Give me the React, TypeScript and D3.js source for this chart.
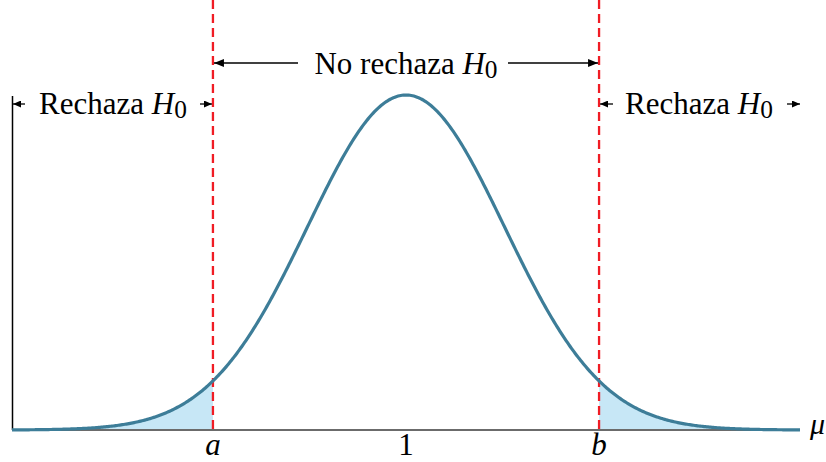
import React from "react";
import * as d3 from "d3";

// Distribution parameters and the two-sided critical value
const mean = [1];
const sd = [1];
const zCritical = [1.96];
const xDomain = [-3, 5];

// Axis tick labels below the baseline
const tickLabels = [
  { key: "a", text: "a", italic: true },
  { key: "mu", text: "1", italic: false },
  { key: "b", text: "b", italic: true },
];

const W = 826;
const H = 462;
const FONT = "'Liberation Serif', 'Times New Roman', serif";

const pdf = (x: number) =>
  Math.exp(-0.5 * ((x - mean[0]) / sd[0]) ** 2) / (sd[0] * Math.sqrt(2 * Math.PI));

export default function App() {
  const x = d3.scaleLinear().domain(xDomain).range([12, 800]);
  const y = d3.scaleLinear().domain([0, pdf(mean[0])]).range([430, 95]);

  const a = mean[0] - zCritical[0] * sd[0];
  const b = mean[0] + zCritical[0] * sd[0];

  const samples = (lo: number, hi: number, n = 300) =>
    d3.range(n + 1).map((i) => lo + ((hi - lo) * i) / n);

  const line = d3
    .line<number>()
    .x((d) => x(d))
    .y((d) => y(pdf(d)))
    .curve(d3.curveLinear);

  const area = d3
    .area<number>()
    .x((d) => x(d))
    .y0(y(0))
    .y1((d) => y(pdf(d)));

  const xa = x(a);
  const xb = x(b);
  const xm = x(mean[0]);
  const base = y(0);

  const H0 = (size: number) => (
    <>
      <tspan fontStyle="italic">H</tspan>
      <tspan fontSize={size * 0.82} dy={4}>
        0
      </tspan>
    </>
  );

  const fs = 31;

  return (
    <svg
      width={W}
      height={H}
      style={{ position: "absolute", left: 0, top: 0, background: "#fff" }}
      fontFamily={FONT}
    >
      <defs>
        <marker
          id="head"
          viewBox="0 0 10 8"
          refX={10}
          refY={4}
          markerWidth={10}
          markerHeight={8}
          markerUnits="userSpaceOnUse"
          orient="auto"
        >
          <path d="M0,0 L10,4 L0,8 Z" fill="#000" />
        </marker>
        <marker
          id="headSmall"
          viewBox="0 0 8 7"
          refX={8}
          refY={3.5}
          markerWidth={8}
          markerHeight={7}
          markerUnits="userSpaceOnUse"
          orient="auto"
        >
          <path d="M0,0 L8,3.5 L0,7 Z" fill="#000" />
        </marker>
      </defs>

      {/* rejection-region shading */}
      <path d={area(samples(xDomain[0], a)) || ""} fill="#c7e7f6" />
      <path d={area(samples(b, xDomain[1])) || ""} fill="#c7e7f6" />

      {/* axes */}
      <line x1={12} x2={800} y1={base} y2={base} stroke="#6b6b6b" strokeWidth={2} />
      <line x1={12.5} x2={12.5} y1={96} y2={base} stroke="#000" strokeWidth={1.5} />

      {/* critical values */}
      {[xa, xb].map((cx, i) => (
        <line
          key={i}
          x1={cx}
          x2={cx}
          y1={0}
          y2={base}
          stroke="#f01c24"
          strokeWidth={2.3}
          strokeDasharray="9,5"
        />
      ))}

      {/* density curve */}
      <path
        d={line(samples(xDomain[0], xDomain[1], 600)) || ""}
        fill="none"
        stroke="#3d7d98"
        strokeWidth={3.2}
      />

      {/* acceptance region annotation */}
      <line x1={298} x2={xa + 1} y1={63} y2={63} stroke="#000" strokeWidth={1.3} markerEnd="url(#head)" />
      <line x1={508} x2={xb - 1} y1={63} y2={63} stroke="#000" strokeWidth={1.3} markerEnd="url(#head)" />
      <text x={xm} y={74} fontSize={fs} textAnchor="middle" fill="#000">
        No rechaza {H0(fs)}
      </text>

      {/* rejection region annotations */}
      <line x1={25} x2={13} y1={104} y2={104} stroke="#000" strokeWidth={1.3} markerEnd="url(#headSmall)" />
      <line x1={200} x2={xa - 1} y1={104} y2={104} stroke="#000" strokeWidth={1.3} markerEnd="url(#headSmall)" />
      <text x={113} y={114} fontSize={fs} textAnchor="middle" fill="#000">
        Rechaza {H0(fs)}
      </text>

      <line x1={613} x2={xb + 1} y1={104} y2={104} stroke="#000" strokeWidth={1.3} markerEnd="url(#headSmall)" />
      <line x1={787} x2={800} y1={104} y2={104} stroke="#000" strokeWidth={1.3} markerEnd="url(#headSmall)" />
      <text x={699} y={114} fontSize={fs} textAnchor="middle" fill="#000">
        Rechaza {H0(fs)}
      </text>

      {/* tick labels */}
      {tickLabels.map((t, i) => {
        const px = [xa, xm, xb][i];
        return (
          <text
            key={t.key}
            x={px}
            y={455}
            fontSize={31}
            fontStyle={t.italic ? "italic" : "normal"}
            textAnchor="middle"
            fill="#000"
          >
            {t.text}
          </text>
        );
      })}

      {/* variable label */}
      <text x={810} y={434} fontSize={30} fontStyle="italic" fill="#000">
        μ
      </text>
    </svg>
  );
}
